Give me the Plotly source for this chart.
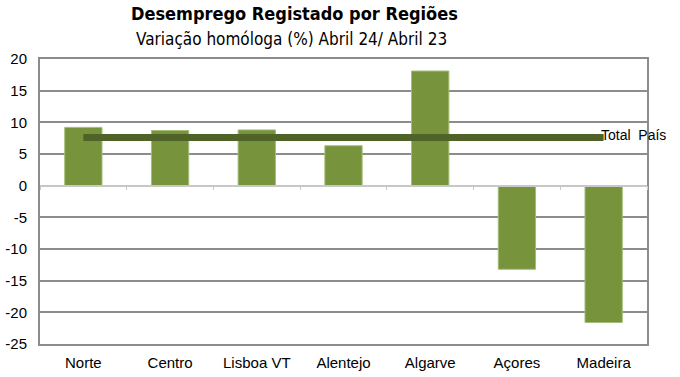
import plotly.graph_objects as go

categories = ["Norte", "Centro", "Lisboa VT", "Alentejo", "Algarve", "Açores", "Madeira"]
values = [9.2, 8.7, 8.8, 6.3, 18.1, -13.2, -21.6]
total_pais = 7.6
total_label = "Total  País"
y_ticks = [20, 15, 10, 5, 0, -5, -10, -15, -20, -25]
y_tick_text = ["20", "15", "10", "5", "0", "-5", "-10", "-15", "-20", "-25"]
title_text = "Desemprego Registado por Regiões"
subtitle_text = "Variação homóloga (%) Abril 24/ Abril 23"

bar_color = "#77933c"
line_color = "#4f6228"
label_font = dict(family="Liberation Sans, Arial", size=15, color="#000000")
narrow = "DejaVu Sans Condensed, Liberation Sans Narrow, Arial Narrow"

fig = go.Figure()
fig.add_trace(go.Bar(
    x=categories, y=values, width=0.43,
    marker=dict(color=bar_color, line=dict(color="#a3bd78", width=1)),
    showlegend=False, hoverinfo="skip",
))
fig.add_trace(go.Scatter(
    x=categories, y=[total_pais] * len(categories), mode="lines",
    line=dict(color=line_color, width=7), showlegend=False, hoverinfo="skip",
))
# dummy trace for the zero-level axis with boundary ticks
fig.add_trace(go.Scatter(x=categories, y=[None] * len(categories), xaxis="x2",
                         showlegend=False, hoverinfo="skip"))

fig.add_annotation(x=categories[-1], y=total_pais, text=total_label, xref="x", yref="y",
                   xanchor="left", yanchor="middle", xshift=-5, yshift=3, showarrow=False,
                   font=dict(family="Liberation Sans, Arial", size=14, color="#000000"))

fig.add_annotation(text="<b>" + title_text + "</b>", xref="paper", yref="paper",
                   x=0.42, y=1.0, yanchor="bottom", yshift=33, showarrow=False,
                   font=dict(family=narrow, size=18, color="#000000"))
fig.add_annotation(text=subtitle_text, xref="paper", yref="paper",
                   x=0.415, y=1.0, yanchor="bottom", yshift=8, showarrow=False,
                   font=dict(family=narrow, size=17, color="#000000"))

fig.update_layout(
    width=680, height=377,
    margin=dict(l=40, r=33, t=59, b=33),
    paper_bgcolor="white", plot_bgcolor="white",
    xaxis=dict(
        type="category", categoryorder="array", categoryarray=categories,
        range=[-0.5, 6.5], showgrid=False, zeroline=False, automargin=False,
        showline=True, linecolor="#8c8c8c", linewidth=2, mirror=True,
        ticks="", tickfont=label_font, ticklabelstandoff=4,
    ),
    xaxis2=dict(
        type="category", overlaying="x", anchor="free", position=25 / 45,
        categoryorder="array", categoryarray=categories, range=[-0.5, 6.5],
        showline=True, linecolor="#c8c8c8", linewidth=1.5, automargin=False,
        ticks="outside", tickson="boundaries", ticklen=4, tickcolor="#c8c8c8",
        showticklabels=False, showgrid=False, zeroline=False,
    ),
    yaxis=dict(
        range=[-25, 20], tickvals=y_ticks, ticktext=y_tick_text,
        showgrid=True, gridcolor="#8c8c8c", gridwidth=1.5, automargin=False,
        zeroline=False, showline=True, linecolor="#8c8c8c", linewidth=2, mirror=True,
        ticks="", tickfont=label_font, ticklabelstandoff=8,
    ),
)

fig.write_html("out.html", config={"displayModeBar": False},
               post_script="document.body.style.margin='0px';document.body.style.padding='0px';")
